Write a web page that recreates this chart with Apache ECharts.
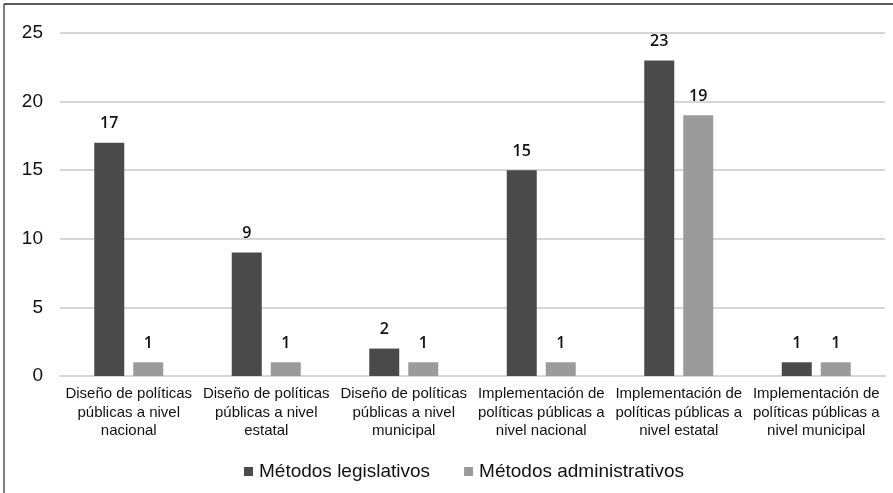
<!DOCTYPE html>
<html>
<head>
<meta charset="utf-8">
<script src="https://cdn.jsdelivr.net/npm/echarts@6/dist/echarts.min.js"></script>
<style>
  html, body { margin: 0; padding: 0; background: #fff; }
  #chart { width: 893px; height: 493px; }
</style>
</head>
<body>
<div id="chart"></div>
<script>
// Categories (pre-wrapped into three lines each)
const categories = [
  'Diseño de políticas\npúblicas a nivel\nnacional',
  'Diseño de políticas\npúblicas a nivel\nestatal',
  'Diseño de políticas\npúblicas a nivel\nmunicipal',
  'Implementación de\npolíticas públicas a\nnivel nacional',
  'Implementación de\npolíticas públicas a\nnivel estatal',
  'Implementación de\npolíticas públicas a\nnivel municipal'
];
const legislativos = [17, 9, 2, 15, 23, 1];
const administrativos = [1, 1, 1, 1, 19, 1];
const seriesNames = ['Métodos legislativos', 'Métodos administrativos'];

const font = 'Liberation Sans, Arial, sans-serif';
const chart = echarts.init(document.getElementById('chart'), null, { renderer: 'canvas' });

const valueLabel = {
  show: true,
  position: 'top',
  distance: 11,
  color: '#111',
  fontSize: 16,
  fontWeight: 600,
  fontFamily: 'Open Sans, Liberation Sans, sans-serif'
};

chart.setOption({
  animation: false,
  backgroundColor: '#fff',
  grid: { left: 60, right: 8, top: 33, bottom: 117, containLabel: false },
  legend: {
    data: seriesNames,
    bottom: 7,
    left: 239,
    itemWidth: 9,
    itemHeight: 9,
    itemGap: 34,
    icon: 'rect',
    textStyle: { fontSize: 19, color: '#111', fontFamily: font, padding: [0, 0, 0, 1] }
  },
  xAxis: {
    type: 'category',
    data: categories,
    axisLine: { show: true, lineStyle: { color: '#d6d6d6', width: 2 } },
    axisTick: { show: false },
    axisLabel: {
      interval: 0,
      margin: 9,
      fontSize: 15,
      lineHeight: 18.5,
      color: '#111',
      fontFamily: font
    }
  },
  yAxis: {
    type: 'value',
    min: 0,
    max: 25,
    interval: 5,
    axisLine: { show: false },
    axisTick: { show: false },
    splitLine: { lineStyle: { color: '#d6d6d6', width: 2 } },
    axisLabel: { fontSize: 19, color: '#111', margin: 17, fontFamily: font }
  },
  series: [
    {
      name: seriesNames[0],
      type: 'bar',
      data: legislativos,
      barWidth: 30,
      barGap: '30%',
      itemStyle: { color: '#4a4a4a' },
      label: valueLabel
    },
    {
      name: seriesNames[1],
      type: 'bar',
      data: administrativos,
      barWidth: 30,
      itemStyle: { color: '#9b9b9b' },
      label: valueLabel
    }
  ],
  graphic: [
    { type: 'line', shape: { x1: 4, y1: 4, x2: 893, y2: 4 }, style: { stroke: '#222', lineWidth: 1.5 } },
    { type: 'line', shape: { x1: 4, y1: 4, x2: 4, y2: 493 }, style: { stroke: '#555', lineWidth: 1.5 } }
  ]
});
</script>
</body>
</html>
